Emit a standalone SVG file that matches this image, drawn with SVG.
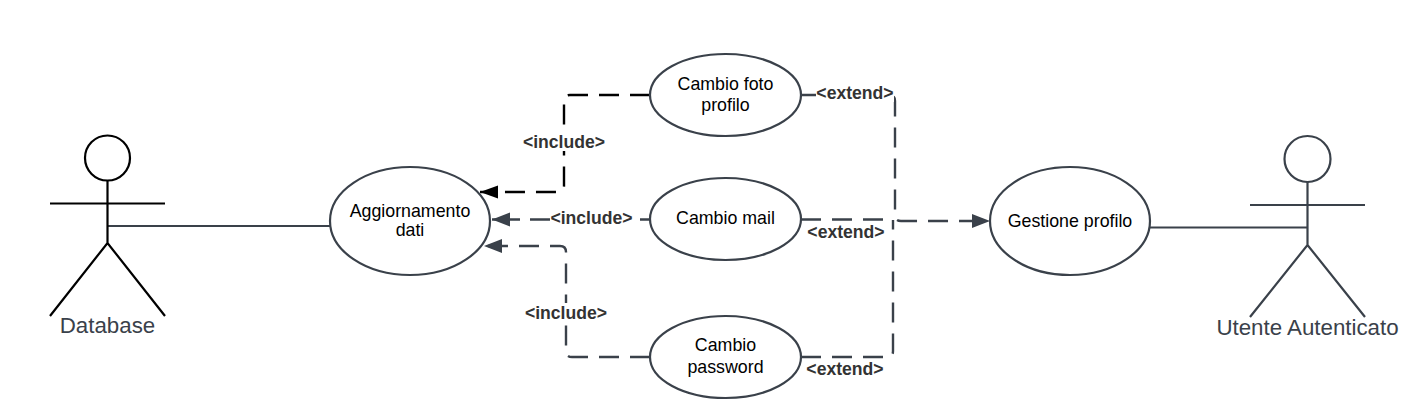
<svg xmlns="http://www.w3.org/2000/svg" width="1422" height="415" viewBox="0 0 1422 415">
<style>
.uc{fill:#fff;stroke:#3a414a;stroke-width:2.200}
.t{font-family:"Liberation Sans",Arial,sans-serif;font-size:17.800px;fill:#000;text-anchor:middle}
.a{font-family:"Liberation Sans",Arial,sans-serif;font-size:22.300px;fill:#3a414a;text-anchor:middle}
.l{font-family:"Liberation Sans",Arial,sans-serif;font-size:17.600px;font-weight:bold;fill:#333;text-anchor:middle}
.d{fill:none;stroke:#3a414a;stroke-width:2.400;stroke-dasharray:20 11}
.s{fill:none;stroke:#3a414a;stroke-width:2.200}
.bg{fill:#fff}
.act{fill:#fff;stroke-width:2.200}
.k{stroke:#000}.g{stroke:#3a414a}
</style>
<defs>
<marker id="ag" markerUnits="userSpaceOnUse" markerWidth="20" markerHeight="16" refX="18" refY="7" orient="auto"><path d="M0 0L18 7L0 14Z" fill="#3a414a"/></marker>
<marker id="ak" markerUnits="userSpaceOnUse" markerWidth="20" markerHeight="16" refX="18" refY="6.500" orient="auto"><path d="M0 0L18 6.500L0 13Z" fill="#000"/></marker>
</defs>
<g id="connectors">
<path class="s" d="M107 226H330"/>
<path class="s" d="M1150 227.500H1308"/>
<path class="d" style="stroke:#000" marker-end="url(#ak)" d="M650 95H570Q564 95 564 101V186Q564 192 558 192H480"/>
<path class="d" style="stroke-dasharray:10 90 20 10 40" marker-end="url(#ag)" d="M650 219.500H492"/>
<path class="d" marker-end="url(#ag)" d="M650 357H572Q566 357 566 351V252Q566 246 560 246H484"/>
<path class="d" marker-end="url(#ag)" d="M801 95H889Q895 95 895 101V215Q895 221 901 221H990"/>
<path class="d" d="M801 219.500H893"/>
<path class="d" d="M801 357H887Q893 357 893 351V220"/>
</g>
<g id="labels">
<rect class="bg" x="523" y="131" width="82" height="20"/>
<text class="l" x="564" y="147.500">&lt;include&gt;</text>
<rect class="bg" x="550" y="208" width="83" height="20"/>
<text class="l" x="591.500" y="223.500">&lt;include&gt;</text>
<rect class="bg" x="525" y="303" width="82" height="20"/>
<text class="l" x="566" y="318.500">&lt;include&gt;</text>
<rect class="bg" x="816" y="83" width="78" height="19"/>
<text class="l" x="855" y="98.500">&lt;extend&gt;</text>
<rect class="bg" x="807" y="222" width="78" height="19"/>
<text class="l" x="846" y="237.500">&lt;extend&gt;</text>
<rect class="bg" x="806" y="360" width="78" height="19"/>
<text class="l" x="845" y="375">&lt;extend&gt;</text>
</g>
<g id="aggiornamento"><ellipse class="uc" cx="410" cy="221" rx="80" ry="54"/><text class="t" x="410" y="216.500">Aggiornamento</text><text class="t" x="410" y="236">dati</text></g>
<g id="cambio-foto"><ellipse class="uc" cx="725.500" cy="95" rx="75.500" ry="41"/><text class="t" x="725.500" y="90">Cambio foto</text><text class="t" x="725.500" y="111">profilo</text></g>
<g id="cambio-mail"><ellipse class="uc" cx="725.500" cy="219" rx="75.500" ry="41"/><text class="t" x="725.500" y="223.500">Cambio mail</text></g>
<g id="cambio-password"><ellipse class="uc" cx="725.500" cy="357" rx="75.500" ry="41"/><text class="t" x="725.500" y="351">Cambio</text><text class="t" x="725.500" y="372.500">password</text></g>
<g id="gestione-profilo"><ellipse class="uc" cx="1070" cy="221" rx="80" ry="54"/><text class="t" x="1070" y="226.500">Gestione profilo</text></g>
<g id="database"><g class="k act"><circle cx="107.500" cy="158" r="22.500"/><path fill="none" d="M107.500 181V243M50 203.500H165M50 316L107.500 243L165 316"/></g><text class="a" x="107.500" y="333">Database</text></g>
<g id="utente"><g class="g act"><circle cx="1307.500" cy="159" r="23"/><path fill="none" d="M1307.500 182V245M1250 205H1365M1250 317L1307.500 245L1365 317"/></g><text class="a" x="1307.500" y="335">Utente Autenticato</text></g>
</svg>
